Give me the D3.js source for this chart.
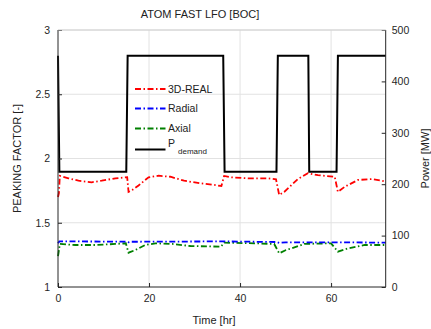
<!DOCTYPE html>
<html>
<head>
<meta charset="utf-8">
<script src="https://cdn.jsdelivr.net/npm/d3@7"></script>
<style>
  body { margin: 0; background: #fff; }
  svg { display: block; font-family: "Liberation Sans", Arial, sans-serif; }
</style>
</head>
<body>
<svg width="431" height="329"></svg>
<script>
// peaking factors (left axis) and power (right axis) vs time
const realT = [0, 0.2, 0.4, 2.3, 4.5, 7.4, 9.6, 12.6, 15.2, 15.5, 16.3, 17.7, 19.9, 22.1, 24.7, 27.7, 31.3, 34.3, 35.9, 36.5, 38, 41.7, 46.1, 47.9, 48.6, 49.7, 51.2, 52.7, 54.9, 57.1, 60.8, 61.5, 63, 65.9, 68.9, 71.1, 72];
const realV = [1.70, 1.73, 1.865, 1.846, 1.827, 1.815, 1.827, 1.846, 1.854, 1.74, 1.755, 1.79, 1.854, 1.866, 1.858, 1.827, 1.807, 1.794, 1.786, 1.864, 1.854, 1.846, 1.846, 1.838, 1.716, 1.74, 1.79, 1.84, 1.885, 1.87, 1.858, 1.74, 1.78, 1.833, 1.84, 1.827, 1.82];

const radialT = [0, 0.3, 15, 15.5, 16, 36.5, 48, 48.6, 50, 61.5, 72];
const radialV = [1.34, 1.355, 1.353, 1.347, 1.352, 1.355, 1.35, 1.343, 1.348, 1.348, 1.345];

const axialT = [0, 0.1, 0.4, 3.8, 8.2, 12.6, 14.9, 15.5, 17, 19.2, 21.4, 25.1, 29.1, 35.8, 36.5, 43.1, 47.5, 48.6, 50.1, 51.2, 54.1, 60, 61.5, 63.7, 67.4, 72];
const axialV = [1.24, 1.262, 1.335, 1.327, 1.327, 1.335, 1.34, 1.267, 1.288, 1.327, 1.34, 1.335, 1.319, 1.314, 1.345, 1.34, 1.335, 1.262, 1.288, 1.30, 1.335, 1.34, 1.275, 1.30, 1.327, 1.327];

const powerT = [0, 0.3, 15, 15.3, 36.3, 36.6, 48, 48.3, 55, 55.2, 61.2, 61.5, 72];
const powerV = [450, 224, 224, 450, 450, 224, 224, 450, 450, 224, 224, 450, 450];

const xTicks = [0, 20, 40, 60];
const leftTicks = [1, 1.5, 2, 2.5, 3];
const rightTicks = [0, 100, 200, 300, 400, 500];

const pLeft = 58, pRight = 385.7, pTop = 30, pBottom = 287;
const svg = d3.select("svg");

const x = d3.scaleLinear().domain([0, 72]).range([pLeft, pRight]);
const yL = d3.scaleLinear().domain([1, 3]).range([pBottom, pTop]);
const yR = d3.scaleLinear().domain([0, 500]).range([pBottom, pTop]);

//grid
const grid = svg.append("g").attr("stroke", "#e2e2e2").attr("stroke-width", 1);
xTicks.filter(d => d > 0).forEach(d => {
  grid.append("line").attr("x1", x(d)).attr("x2", x(d)).attr("y1", pTop).attr("y2", pBottom);
});
leftTicks.filter(d => d > 1).forEach(d => {
  grid.append("line").attr("x1", pLeft).attr("x2", pRight).attr("y1", yL(d)).attr("y2", yL(d));
});

//series
const mk = (ts, vs) => ts.map((t, i) => [t, vs[i]]);
const lineL = d3.line().x(d => x(d[0])).y(d => yL(d[1]));
const lineR = d3.line().x(d => x(d[0])).y(d => yR(d[1]));
const dash = "6,2.5,1.5,2.5";

svg.append("path").datum(mk(powerT, powerV)).attr("d", lineR)
  .attr("fill", "none").attr("stroke", "#000").attr("stroke-width", 2);
svg.append("path").datum(mk(realT, realV)).attr("d", lineL)
  .attr("fill", "none").attr("stroke", "#ff0000").attr("stroke-width", 1.8).attr("stroke-dasharray", dash);
svg.append("path").datum(mk(axialT, axialV)).attr("d", lineL)
  .attr("fill", "none").attr("stroke", "#008000").attr("stroke-width", 1.8).attr("stroke-dasharray", dash);
svg.append("path").datum(mk(radialT, radialV)).attr("d", lineL)
  .attr("fill", "none").attr("stroke", "#0000ff").attr("stroke-width", 1.8).attr("stroke-dasharray", dash);

//axes
const fs = "10.5px";
const ax = svg.append("g").attr("transform", `translate(0,${pBottom})`)
  .call(d3.axisBottom(x).tickValues(xTicks).tickSize(-4).tickPadding(8).tickFormat(d3.format("d")));
const al = svg.append("g").attr("transform", `translate(${pLeft},0)`)
  .call(d3.axisLeft(yL).tickValues(leftTicks).tickSize(-4).tickPadding(8).tickFormat(d => d));
const ar = svg.append("g").attr("transform", `translate(${pRight},0)`)
  .call(d3.axisRight(yR).tickValues(rightTicks).tickSize(-4).tickPadding(6).tickFormat(d3.format("d")));
[ax, al, ar].forEach(g => {
  g.selectAll(".domain").attr("stroke", "#262626").attr("stroke-width", 1);
  g.selectAll(".tick line").attr("stroke", "#262626");
  g.selectAll("text").attr("fill", "#262626").style("font-size", fs).style("font-family", "Liberation Sans, Arial, sans-serif");
});
ax.select(".domain").attr("d", `M${pLeft},0H${pRight}`);
al.select(".domain").attr("d", `M0,${pBottom}V${pTop}`);
ar.select(".domain").attr("d", `M0,${pBottom}V${pTop}`);
svg.append("line").attr("x1", pLeft).attr("x2", pRight).attr("y1", pTop).attr("y2", pTop)
  .attr("stroke", "#d0d0d0").attr("stroke-width", 1);

//labels
svg.append("text").attr("x", 200).attr("y", 18).attr("text-anchor", "middle")
  .style("font-size", "11px").attr("fill", "#222").text("ATOM FAST LFO [BOC]");
svg.append("text").attr("x", 214).attr("y", 324).attr("text-anchor", "middle")
  .style("font-size", "11px").attr("fill", "#222").text("Time [hr]");
svg.append("text").attr("transform", `translate(21,${(pTop + pBottom) / 2}) rotate(-90)`).attr("text-anchor", "middle")
  .style("font-size", "11px").attr("fill", "#222").text("PEAKING FACTOR [-]");
svg.append("text").attr("transform", `translate(429,${(pTop + pBottom) / 2}) rotate(-90)`).attr("text-anchor", "middle")
  .style("font-size", "11px").attr("fill", "#222").text("Power [MW]");

//legend
const names = ["3D-REAL", "Radial", "Axial", "P"];
const colors = ["#ff0000", "#0000ff", "#008000", "#000"];
const leg = svg.append("g");
names.forEach((n, i) => {
  const yy = [89, 108.5, 128.5, 149.5][i];
  leg.append("line").attr("x1", 135).attr("x2", 165.5).attr("y1", yy).attr("y2", yy)
    .attr("stroke", colors[i]).attr("stroke-width", i === 3 ? 2 : 1.8)
    .attr("stroke-dasharray", i === 3 ? null : dash);
  leg.append("text").attr("x", 168).attr("y", i === 3 ? yy - 2.5 : yy + 3.5)
    .style("font-size", "10.5px").attr("fill", "#222").text(n);
  if (i === 3) {
    leg.append("text").attr("x", 178).attr("y", yy + 4.5).style("font-size", "8px").attr("fill", "#222").text("demand");
  }
});
</script>
</body>
</html>
